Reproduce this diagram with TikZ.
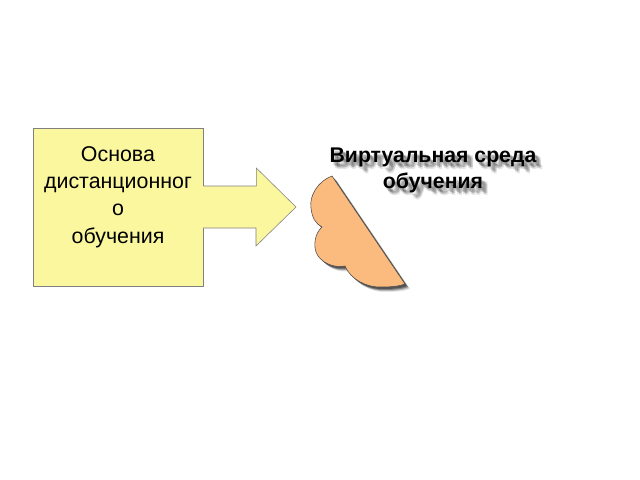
\documentclass[tikz,border=0pt]{standalone}
\usepackage{fontspec}
\setmainfont{Liberation Sans}
\definecolor{baseyellow}{HTML}{FBF79E}
\definecolor{cloudorange}{HTML}{FBBA7E}
\begin{document}
\begin{tikzpicture}[x=0.025cm, y=-0.025cm]
\tikzstyle{every node}=[inner sep=0pt]
\tikzstyle{basebox}=[draw=gray, fill=baseyellow, minimum width=4.25cm, minimum height=3.95cm]
\tikzstyle{basetext}=[align=center, font=\fontsize{15.2}{19.5}\selectfont]
\tikzstyle{envtext}=[align=center, font=\bfseries\fontsize{15.1}{18.4}\selectfont]
\useasboundingbox (0,0) rectangle (640,480);
\node [basebox] (base) at (118,207) {};
\node [basetext] (basetext) at (118,197) {Основа\\дистанционног\\о\\обучения};
\fill [baseyellow] (base.east) ++(-1,-21) -- ++(54,0) -- ++(0,-18) -- (296,207) -- (256,246) -- (256,228) -- (202,228) -- cycle;
\draw [gray] (base.east) ++(0,-21) -- ++(53,0) -- ++(0,-18) -- (296,207) -- (256,246) -- (256,228) -- (203,228);
% shadow of the half cloud
\foreach \d/\o in {2/0.35, 3/0.3, 4/0.2, 5/0.1}
  \fill [black, opacity=\o, shift={(\d,\d)}] (332,176) .. controls (318,181) and (309,196) .. (311,208) .. controls (312,218) and (316,224) .. (322,227) .. controls (315,233) and (312,247) .. (318,256) .. controls (324,264) and (335,268) .. (345,266) .. controls (350,279) and (367,288) .. (382,287) .. controls (392,287) and (400,286) .. (405,284) -- cycle;
\draw [black!70, fill=cloudorange] (332,176) .. controls (318,181) and (309,196) .. (311,208) .. controls (312,218) and (316,224) .. (322,227) .. controls (315,233) and (312,247) .. (318,256) .. controls (324,264) and (335,268) .. (345,266) .. controls (350,279) and (367,288) .. (382,287) .. controls (392,287) and (400,286) .. (405,284) -- cycle;
% title with shadow
\foreach \dx/\dy [count=\i] in {2/3, 3/4, 4/4, 5/5, 4/6, 6/5, 6/7}
  \node [envtext, text=black, opacity=0.1] (envshadow\i) at (433+\dx,170+\dy) {Виртуальная среда\\обучения};
\node [envtext] (env) at (433,170) {Виртуальная среда\\обучения};
\end{tikzpicture}
\end{document}
